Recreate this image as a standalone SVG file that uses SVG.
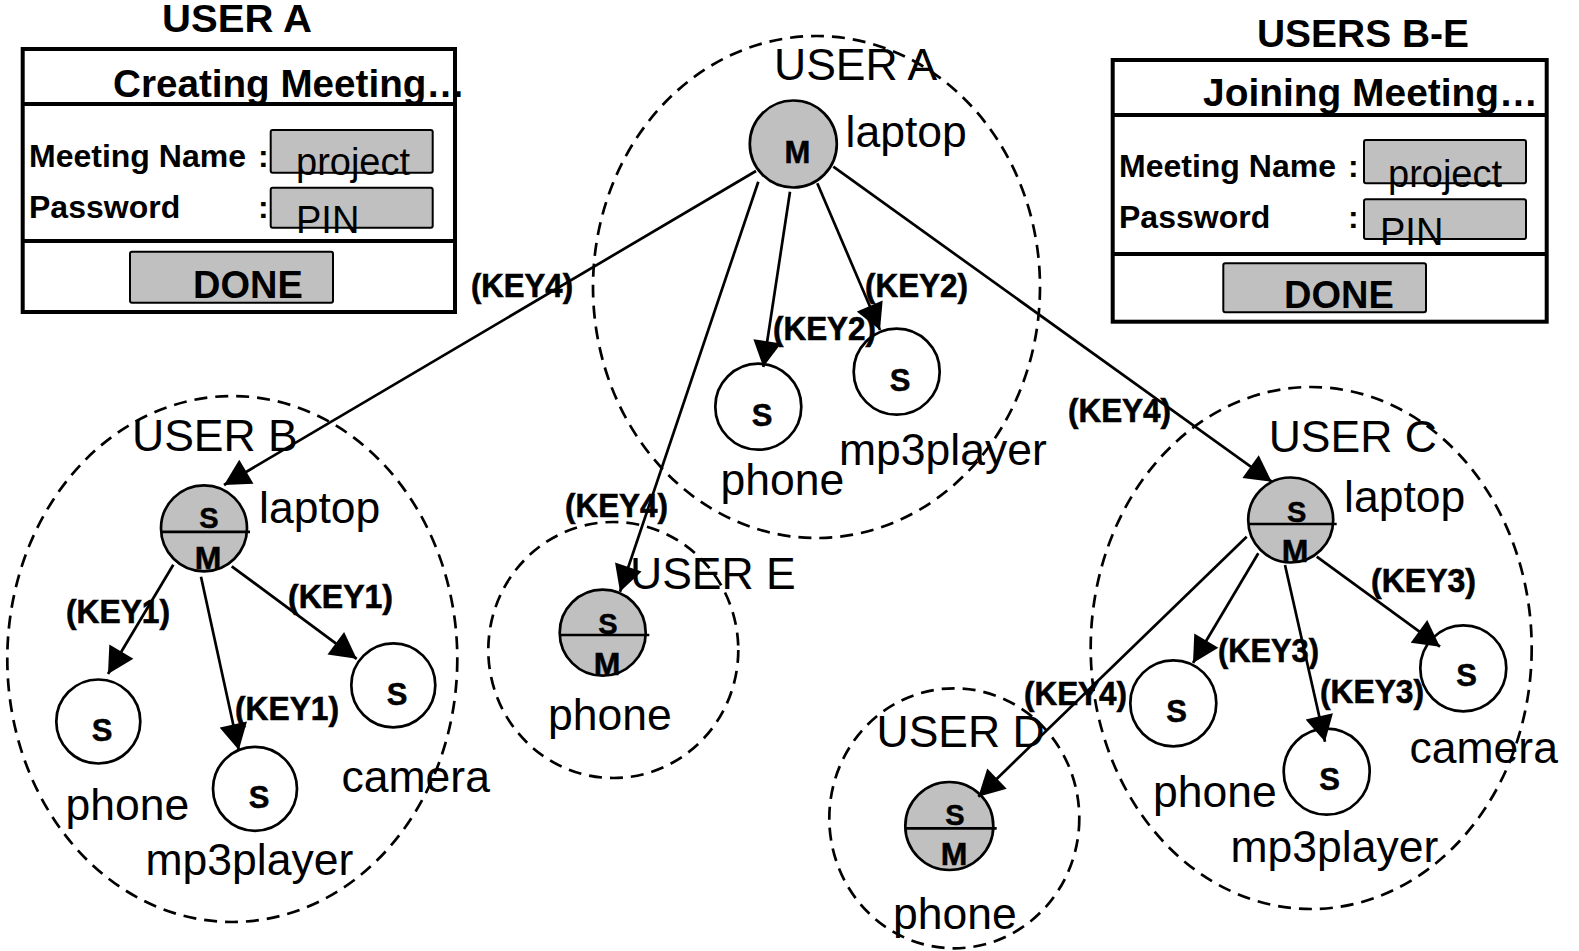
<svg xmlns="http://www.w3.org/2000/svg" width="1579" height="951" viewBox="0 0 1579 951">
  <style>
    text { font-family: "Liberation Sans", Arial, sans-serif; fill: #000; }
    .ttl { font-size: 38px; font-weight: bold; }
    .fld { font-size: 32px; font-weight: bold; }
    .val { font-size: 38px; }
    .lbl { font-size: 44.5px; }
    .key { font-size: 33px; font-weight: bold; stroke: #000; stroke-width: 0.6; }
    .nl { font-size: 31px; font-weight: bold; text-anchor: middle; stroke: #000; stroke-width: 0.5; }
    .ns { font-size: 29px; font-weight: bold; text-anchor: middle; stroke: #000; stroke-width: 0.5; }
    .nm { font-size: 32px; font-weight: bold; text-anchor: middle; stroke: #000; stroke-width: 0.5; }
    .frame { fill: #fff; stroke: #000; stroke-width: 4; }
    .sep { stroke: #000; stroke-width: 4; }
    .input { fill: #c0c0c0; stroke: #000; stroke-width: 2; }
    .zone { fill: none; stroke: #000; stroke-width: 2.7; stroke-dasharray: 13 8; }
    .master { fill: #c0c0c0; stroke: #000; stroke-width: 2.7; }
    .slave { fill: #fff; stroke: #000; stroke-width: 2.7; }
    .div { stroke: #000; stroke-width: 2.7; }
    .edge { fill: none; stroke: #000; stroke-width: 2.7; marker-end: url(#head); }
  </style>
  <defs>
    <marker id="head" markerUnits="userSpaceOnUse" markerWidth="28" markerHeight="28" viewBox="0 0 26 28" refX="26" refY="14" orient="auto">
      <path d="M0,0 L26,14 L0,28 z" fill="#000"/>
    </marker>
  </defs>

  <rect width="1579" height="951" fill="#fff"/>

  <!-- meeting creation form -->
  <g id="form-create">
    <text class="ttl" x="162" y="32" textLength="150" lengthAdjust="spacingAndGlyphs">USER A</text>
    <rect class="frame" x="22.7" y="49" width="432.3" height="263"/>
    <line class="sep" x1="22.7" y1="104" x2="455" y2="104"/>
    <line class="sep" x1="22.7" y1="241" x2="455" y2="241"/>
    <text class="ttl" x="113" y="97" textLength="352" lengthAdjust="spacingAndGlyphs">Creating Meeting…</text>
    <text class="fld" x="29" y="167">Meeting Name</text>
    <text class="fld" x="258" y="167">:</text>
    <text class="fld" x="29" y="218">Password</text>
    <text class="fld" x="258" y="218">:</text>
    <rect class="input" x="270.7" y="130" width="162" height="42.7" rx="2"/>
    <rect class="input" x="270.7" y="187.7" width="162" height="40" rx="2"/>
    <text class="val" x="296" y="175">project</text>
    <text class="val" x="296" y="233">PIN</text>
    <rect class="input" x="130" y="251.7" width="203" height="51" rx="2"/>
    <text class="ttl" x="193" y="298">DONE</text>
  </g>

  <!-- meeting join form -->
  <g id="form-join">
    <text class="ttl" x="1257" y="46.7" textLength="212" lengthAdjust="spacingAndGlyphs">USERS B-E</text>
    <rect class="frame" x="1112.7" y="60" width="434" height="261.7"/>
    <line class="sep" x1="1112.7" y1="115" x2="1546.7" y2="115"/>
    <line class="sep" x1="1112.7" y1="254" x2="1546.7" y2="254"/>
    <text class="ttl" x="1203" y="106" textLength="335" lengthAdjust="spacingAndGlyphs">Joining Meeting…</text>
    <text class="fld" x="1119" y="176.7">Meeting Name</text>
    <text class="fld" x="1348" y="176.7">:</text>
    <text class="fld" x="1119" y="228">Password</text>
    <text class="fld" x="1348" y="228">:</text>
    <rect class="input" x="1364" y="140" width="162" height="43.3" rx="2"/>
    <rect class="input" x="1364" y="199.3" width="162" height="39.7" rx="2"/>
    <text class="val" x="1388" y="186.7">project</text>
    <text class="val" x="1380" y="245">PIN</text>
    <rect class="input" x="1223.3" y="263.3" width="202.7" height="49" rx="2"/>
    <text class="ttl" x="1284" y="308.3">DONE</text>
  </g>

  <!-- user zones -->
  <g id="zones">
    <ellipse class="zone" cx="816.5" cy="287" rx="223.5" ry="251"/>
    <ellipse class="zone" cx="232.3" cy="659" rx="225" ry="263"/>
    <ellipse class="zone" cx="1311.2" cy="648" rx="220.5" ry="261"/>
    <ellipse class="zone" cx="613.3" cy="650" rx="125" ry="128"/>
    <ellipse class="zone" cx="954.3" cy="818.3" rx="125" ry="130"/>
  </g>

  <!-- user A -->
  <g id="user-a">
    <text class="lbl" x="774" y="80">USER A</text>
    <circle class="master" cx="793.3" cy="144" r="43.5"/>
    <text class="nl" x="797.5" y="163">M</text>
    <text class="lbl" x="845.5" y="146.7">laptop</text>
    <circle class="slave" cx="758.3" cy="406.7" r="43"/>
    <text class="nl" x="762" y="426">S</text>
    <text class="lbl" x="720.5" y="495">phone</text>
    <circle class="slave" cx="896.7" cy="371.7" r="43"/>
    <text class="nl" x="900" y="390.5">S</text>
    <text class="lbl" x="839" y="465">mp3player</text>
  </g>

  <!-- user B -->
  <g id="user-b">
    <text class="lbl" x="132" y="450.7">USER B</text>
    <circle class="master" cx="204" cy="528.3" r="43"/>
    <line class="div" x1="161" y1="531.8" x2="250" y2="531.8"/>
    <text class="ns" x="209" y="527.7">S</text>
    <text class="nm" x="208" y="568.7">M</text>
    <text class="lbl" x="259" y="523.2">laptop</text>
    <circle class="slave" cx="98.3" cy="721.5" r="42"/>
    <text class="nl" x="102" y="740.5">S</text>
    <text class="lbl" x="65.5" y="819.9">phone</text>
    <circle class="slave" cx="255" cy="788.8" r="42"/>
    <text class="nl" x="259" y="808">S</text>
    <text class="lbl" x="145.5" y="875">mp3player</text>
    <circle class="slave" cx="393.3" cy="685.3" r="42"/>
    <text class="nl" x="397" y="704.5">S</text>
    <text class="lbl" x="341.5" y="792.3">camera</text>
  </g>

  <!-- user C -->
  <g id="user-c">
    <text class="lbl" x="1268.7" y="451.7">USER C</text>
    <circle class="master" cx="1290.7" cy="520" r="42.5"/>
    <line class="div" x1="1248.2" y1="524" x2="1336.7" y2="524"/>
    <text class="ns" x="1296.7" y="521.7">S</text>
    <text class="nm" x="1295" y="561.7">M</text>
    <text class="lbl" x="1344" y="511.7">laptop</text>
    <circle class="slave" cx="1173.3" cy="703.3" r="43"/>
    <text class="nl" x="1176.5" y="722">S</text>
    <text class="lbl" x="1153" y="806.7">phone</text>
    <circle class="slave" cx="1326.7" cy="771.7" r="43"/>
    <text class="nl" x="1329.7" y="789.5">S</text>
    <text class="lbl" x="1230.5" y="862">mp3player</text>
    <circle class="slave" cx="1463.3" cy="668.3" r="43"/>
    <text class="nl" x="1466.7" y="686">S</text>
    <text class="lbl" x="1409.5" y="763.3">camera</text>
  </g>

  <!-- user E -->
  <g id="user-e">
    <text class="lbl" x="630" y="589.3">USER E</text>
    <circle class="master" cx="602.7" cy="632.7" r="43"/>
    <line class="div" x1="559.7" y1="635" x2="649.3" y2="635"/>
    <text class="ns" x="607.8" y="634">S</text>
    <text class="nm" x="607" y="675">M</text>
    <text class="lbl" x="548" y="730">phone</text>
  </g>

  <!-- user D -->
  <g id="user-d">
    <text class="lbl" x="876.5" y="747.3">USER D</text>
    <circle class="master" cx="949.3" cy="826" r="44"/>
    <line class="div" x1="905.3" y1="828.3" x2="996.7" y2="828.3"/>
    <text class="ns" x="955" y="825">S</text>
    <text class="nm" x="954" y="865">M</text>
    <text class="lbl" x="893" y="929.3">phone</text>
  </g>

  <!-- key distribution links -->
  <g id="connectors">
    <line class="edge" x1="790" y1="191.7" x2="763.3" y2="367"/>
    <line class="edge" x1="817.3" y1="183.3" x2="880" y2="330"/>
    <line class="edge" x1="756" y1="171" x2="224" y2="485"/>
    <line class="edge" x1="758.3" y1="181.7" x2="620" y2="591.7"/>
    <line class="edge" x1="833.3" y1="166.7" x2="1271.7" y2="481.7"/>
    <line class="edge" x1="173.3" y1="564.8" x2="108" y2="674"/>
    <line class="edge" x1="201" y1="576.7" x2="238.8" y2="750"/>
    <line class="edge" x1="231.7" y1="566.3" x2="356.7" y2="658.8"/>
    <line class="edge" x1="1258.3" y1="553.3" x2="1193" y2="663"/>
    <line class="edge" x1="1285" y1="565" x2="1325" y2="741.7"/>
    <line class="edge" x1="1316.7" y1="556.7" x2="1440" y2="646.7"/>
    <line class="edge" x1="1246.7" y1="536.7" x2="978.3" y2="796.7"/>
  </g>

  <!-- link labels -->
  <g id="key-labels">
    <text class="key" x="471" y="296.7" textLength="102" lengthAdjust="spacingAndGlyphs">(KEY4)</text>
    <text class="key" x="865" y="296.7" textLength="103" lengthAdjust="spacingAndGlyphs">(KEY2)</text>
    <text class="key" x="773" y="340" textLength="103" lengthAdjust="spacingAndGlyphs">(KEY2)</text>
    <text class="key" x="565" y="517.3" textLength="103" lengthAdjust="spacingAndGlyphs">(KEY4)</text>
    <text class="key" x="1068" y="421.7" textLength="103" lengthAdjust="spacingAndGlyphs">(KEY4)</text>
    <text class="key" x="66" y="623.1" textLength="104" lengthAdjust="spacingAndGlyphs">(KEY1)</text>
    <text class="key" x="288" y="607.7" textLength="105" lengthAdjust="spacingAndGlyphs">(KEY1)</text>
    <text class="key" x="235" y="719.8" textLength="104" lengthAdjust="spacingAndGlyphs">(KEY1)</text>
    <text class="key" x="1371" y="591.7" textLength="105" lengthAdjust="spacingAndGlyphs">(KEY3)</text>
    <text class="key" x="1218" y="661.7" textLength="101" lengthAdjust="spacingAndGlyphs">(KEY3)</text>
    <text class="key" x="1320" y="703.3" textLength="104" lengthAdjust="spacingAndGlyphs">(KEY3)</text>
    <text class="key" x="1024" y="705" textLength="103" lengthAdjust="spacingAndGlyphs">(KEY4)</text>
  </g>
</svg>
